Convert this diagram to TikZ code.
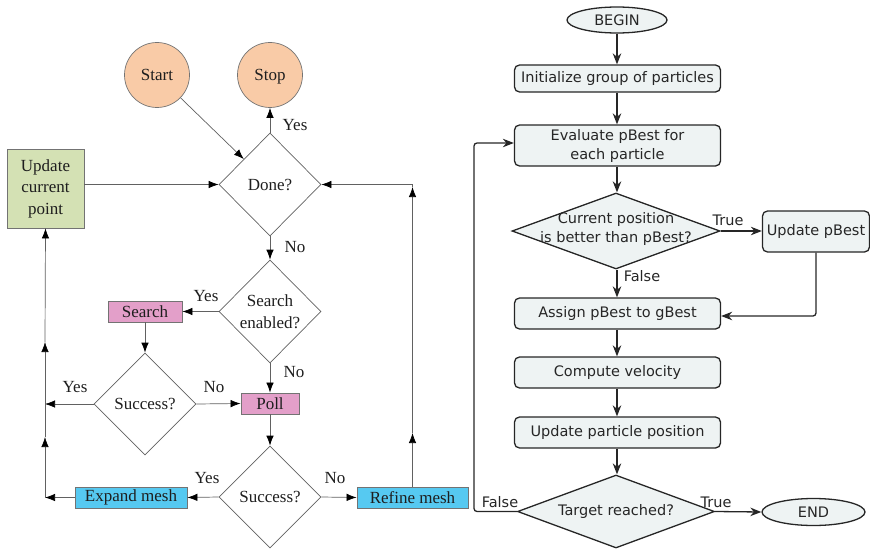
\documentclass[tikz,border=0pt]{standalone}
\usepackage{fontspec}
\setmainfont{Liberation Serif}
\newfontfamily\psofont{DejaVu Sans}
\usetikzlibrary{shapes.geometric,arrows.meta}
\definecolor{peach}{HTML}{F9CBA7}
\definecolor{lgreen}{HTML}{D4E1B4}
\definecolor{lpink}{HTML}{E39FC9}
\definecolor{lblue}{HTML}{56C9F1}
\definecolor{lgray}{HTML}{EEF3F3}
\definecolor{ltext}{HTML}{1E1E1E}
\begin{document}
\begin{tikzpicture}[x=1pt,y=-1pt,
  lfont/.style={font=\fontsize{17}{21.5}\selectfont, text=ltext},
  lline/.style={draw=black!62, line width=0.7pt},
  larr/.style={lline, -{Latex[length=10pt,width=7.5pt,black]}},
  lcirc/.style={circle, draw=black!55, line width=0.7pt, fill=peach, minimum size=65pt, inner sep=0, lfont, text height=14pt, text depth=3pt},
  lbox/.style={rectangle, draw=black!55, line width=0.8pt, inner sep=0, lfont, align=center},
  ldia/.style={diamond, draw=black!62, line width=0.7pt, inner sep=0, minimum width=102pt, minimum height=103pt},
  ltxt/.style={lfont, align=center, inner sep=0},
  rfont/.style={font=\psofont\fontsize{14.5}{19}\selectfont, text=black!85},
  rline/.style={draw=black!85, line width=1.3pt},
  rarr/.style={rline, -{Stealth[length=11pt,width=8.5pt,inset=3.5pt]}},
  rbox/.style={rectangle, rounded corners=5pt, draw=black!85, line width=1.3pt, fill=lgray, inner sep=0, rfont, align=center, minimum width=206pt},
  rell/.style={ellipse, draw=black!85, line width=1.3pt, fill=lgray, inner sep=0, rfont},
  rdia/.style={diamond, draw=black!85, line width=1.3pt, fill=lgray, inner sep=0},
  rtxt/.style={rfont, align=center, inner sep=0}
]
\useasboundingbox (0,0) rectangle (870,551);

% ---------------- left flowchart ----------------
\node[lcirc] (start) at (157,75) {Start};
\node[lcirc] (stop) at (270,75) {Stop};
\node[ldia] (done) at (270,184.5) {};
\node[ltxt] (donet) at (done) {Done?};
\node[lbox, fill=lgreen, minimum width=77pt, minimum height=79pt] (upd) at (45.5,188.5) {Update\\current\\point};
\node[ldia] (sen) at (270,311.5) {};
\node[ltxt] (sent) at (sen) {Search\\enabled?};
\node[lbox, fill=lpink, minimum width=74pt, minimum height=21pt] (search) at (145,311.5) {Search};
\node[ldia, minimum height=102pt] (s1) at (145,404) {};
\node[ltxt] (s1t) at (s1) {Success?};
\node[lbox, fill=lpink, minimum width=58pt, minimum height=21pt] (poll) at (270,403.5) {Poll};
\node[ldia, minimum height=102pt] (s2) at (270,497) {};
\node[ltxt] (s2t) at (s2) {Success?};
\node[lbox, fill=lblue, minimum width=112pt, minimum height=21pt] (expand) at (131,497.5) {Expand mesh};
\node[lbox, fill=lblue, minimum width=111pt, minimum height=21pt] (refine) at (412.5,497.5) {Refine mesh};

\coordinate (cy) at (45,404);
\coordinate (cb) at (45,497.5);
\coordinate (m1) at (45,437);
\coordinate (m2) at (45,342);
\coordinate (r1) at (412.5,433);
\coordinate (r2) at (412.5,187);

\draw[larr] (start) -- (done);
\draw[larr] (done.north) -- (stop.south);
\draw[larr] (done.south) -- (sen.north);
\draw[larr] (sen.west) -- (search.east);
\draw[larr] (search.south) -- (s1.north);
\draw[larr] (sen.south) -- (poll.north);
\draw[larr] (s1.east) -- (poll.west);
\draw[larr] (s1.west) -- (cy);
\draw[larr] (poll.south) -- (s2.north);
\draw[larr] (s2.west) -- (expand.east);
\draw[larr] (s2.east) -- (refine.west);
\draw[larr] (expand.west) -- (cb);
\draw[larr] (cb) -- (m1);
\draw[larr] (m1) -- (m2);
\draw[larr] (m2) -- (upd.south);
\draw[larr] (upd.east |- done.west) -- (done.west);
\draw[larr] (refine.north) -- (r1);
\draw[larr] (r1) -- (r2);
\draw[larr] (r2) |- (done.east);

\node[ltxt] (y1) at (295,125) {Yes};
\node[ltxt] (n1) at (295,247) {No};
\node[ltxt] (y2) at (206,296) {Yes};
\node[ltxt] (n2) at (294,372) {No};
\node[ltxt] (y3) at (75,387) {Yes};
\node[ltxt] (n3) at (214,387) {No};
\node[ltxt] (y4) at (207,478) {Yes};
\node[ltxt] (n4) at (335,478) {No};

% ---------------- right flowchart ----------------
\node[rell, minimum width=100pt, minimum height=26pt] (begin) at (617,20) {BEGIN};
\node[rbox, minimum height=27pt] (init) at (617.5,78.5) {Initialize group of particles};
\node[rbox, minimum height=41pt] (eval) at (617.5,145.5) {Evaluate pBest for\\each particle};
\node[rdia, minimum width=208pt, minimum height=76pt] (cur) at (616,231) {};
\node[rtxt] (curt) at (616,228.5) {Current position\\is better than pBest?};
\node[rbox, minimum width=107pt, minimum height=41pt] (upb) at (816,231.5) {Update pBest};
\node[rbox, minimum height=31pt] (assign) at (617.5,313.5) {Assign pBest to gBest};
\node[rbox, minimum height=31pt] (comp) at (617.5,372.5) {Compute velocity};
\node[rbox, minimum height=31pt] (updpos) at (617.5,432.5) {Update particle position};
\node[rdia, minimum width=197pt, minimum height=73pt] (target) at (616,511.5) {};
\node[rtxt] (targett) at (target) {Target reached?};
\node[rell, minimum width=103pt, minimum height=27pt] (end) at (813.5,512) {END};

\coordinate (lp) at (474,511.5);

\draw[rarr] (begin.south) -- (begin.south |- init.north);
\draw[rarr] (init.south -| begin.south) -- (begin.south |- eval.north);
\draw[rarr] (eval.south -| begin.south) -- (begin.south |- cur.north);
\draw[rarr] (cur.east) -- (upb.west |- cur.east);
\draw[rarr] (cur.south -| begin.south) -- (begin.south |- assign.north);
\draw[rarr, rounded corners=3pt] (upb.south) |- ([yshift=-2.5pt]assign.east);
\draw[rarr] (assign.south -| begin.south) -- (begin.south |- comp.north);
\draw[rarr] (comp.south -| begin.south) -- (begin.south |- updpos.north);
\draw[rarr] (updpos.south -| begin.south) -- (begin.south |- target.north);
\draw[rarr] (target.east) -- (end.west);
\draw[rarr, rounded corners=3pt] (target.west) -- (lp) |- ([yshift=2.5pt]eval.west);

\node[rtxt] (t1) at (728,220) {True};
\node[rtxt] (f1) at (642,276) {False};
\node[rtxt] (t2) at (716,502) {True};
\node[rtxt] (f2) at (500,502) {False};
\end{tikzpicture}
\end{document}
